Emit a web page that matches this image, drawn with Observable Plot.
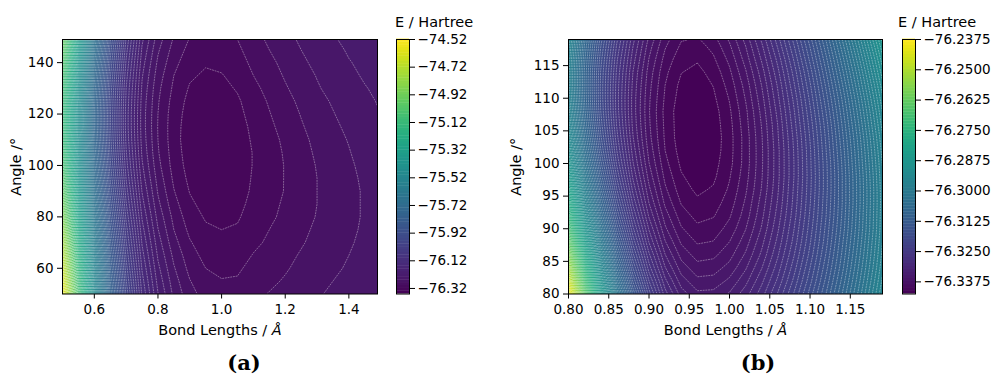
<!DOCTYPE html>
<html>
<head>
<meta charset="utf-8">
<script src="https://cdn.jsdelivr.net/npm/d3@7"></script>
<script src="https://cdn.jsdelivr.net/npm/@observablehq/plot@0.6"></script>
<style>
  body { margin: 0; background: #fff; }
  #fig { position: relative; width: 995px; height: 376px; font-family: "DejaVu Sans", sans-serif; color: #000; }
  #fig > svg { position: absolute; top: 0; }
  .cbtitle { position: absolute; top: 14px; font-size: 14.5px; line-height: 17px; white-space: nowrap; }
  .caption { position: absolute; top: 350px; width: 60px; text-align: center; font-family: "DejaVu Serif", "Liberation Serif", serif; font-weight: bold; font-size: 21px; }
</style>
</head>
<body>
<div id="fig"></div>
<script>
// ---------- Panel (a): wide scan ----------
const bondLengthsA = [0.50, 0.55, 0.60, 0.65, 0.70, 0.75, 0.80, 0.85, 0.90, 0.95, 1.00,
                      1.05, 1.10, 1.15, 1.20, 1.25, 1.30, 1.35, 1.40, 1.45, 1.50];
const anglesA = [50, 55, 60, 65, 70, 75, 80, 85, 90, 95, 100, 105, 110, 115, 120, 125, 130, 135, 140, 145, 150];
// one row per bond length, values along anglesA (Hartree)
const energyA = [
  [-74.567, -74.614, -74.662, -74.712, -74.764, -74.815, -74.866, -74.915, -74.961, -75.002, -75.038, -75.066, -75.086, -75.097, -75.098, -75.089, -75.071, -75.044, -75.010, -74.969, -74.924],
  [-75.083, -75.117, -75.152, -75.188, -75.225, -75.262, -75.299, -75.334, -75.367, -75.397, -75.423, -75.444, -75.458, -75.466, -75.466, -75.460, -75.447, -75.428, -75.403, -75.373, -75.341],
  [-75.487, -75.511, -75.536, -75.561, -75.588, -75.614, -75.640, -75.665, -75.688, -75.710, -75.728, -75.742, -75.753, -75.758, -75.759, -75.754, -75.745, -75.731, -75.714, -75.693, -75.670],
  [-75.782, -75.799, -75.817, -75.835, -75.854, -75.873, -75.892, -75.909, -75.926, -75.942, -75.955, -75.965, -75.972, -75.976, -75.977, -75.974, -75.967, -75.957, -75.944, -75.930, -75.913],
  [-75.985, -75.998, -76.011, -76.024, -76.038, -76.051, -76.065, -76.078, -76.090, -76.101, -76.111, -76.118, -76.124, -76.127, -76.127, -76.124, -76.120, -76.112, -76.103, -76.092, -76.080],
  [-76.123, -76.132, -76.142, -76.152, -76.162, -76.172, -76.182, -76.192, -76.201, -76.210, -76.217, -76.223, -76.227, -76.229, -76.229, -76.227, -76.223, -76.218, -76.211, -76.203, -76.194],
  [-76.199, -76.207, -76.215, -76.223, -76.231, -76.239, -76.247, -76.255, -76.262, -76.268, -76.274, -76.278, -76.280, -76.281, -76.280, -76.278, -76.275, -76.270, -76.264, -76.257, -76.249],
  [-76.245, -76.251, -76.258, -76.265, -76.273, -76.280, -76.286, -76.293, -76.299, -76.304, -76.308, -76.310, -76.312, -76.312, -76.311, -76.308, -76.304, -76.300, -76.294, -76.288, -76.281],
  [-76.273, -76.279, -76.286, -76.292, -76.298, -76.305, -76.311, -76.316, -76.321, -76.325, -76.328, -76.330, -76.331, -76.330, -76.328, -76.326, -76.322, -76.317, -76.312, -76.306, -76.300],
  [-76.288, -76.294, -76.300, -76.306, -76.312, -76.317, -76.322, -76.327, -76.331, -76.335, -76.337, -76.338, -76.338, -76.337, -76.335, -76.332, -76.328, -76.323, -76.318, -76.313, -76.307],
  [-76.293, -76.299, -76.304, -76.310, -76.315, -76.320, -76.325, -76.329, -76.333, -76.335, -76.337, -76.338, -76.337, -76.336, -76.333, -76.330, -76.326, -76.321, -76.316, -76.311, -76.305],
  [-76.292, -76.298, -76.303, -76.308, -76.313, -76.318, -76.322, -76.325, -76.328, -76.330, -76.331, -76.331, -76.331, -76.329, -76.326, -76.323, -76.318, -76.314, -76.309, -76.304, -76.299],
  [-76.285, -76.289, -76.294, -76.299, -76.304, -76.308, -76.312, -76.315, -76.317, -76.318, -76.319, -76.319, -76.317, -76.315, -76.312, -76.309, -76.305, -76.300, -76.295, -76.290, -76.286],
  [-76.279, -76.284, -76.288, -76.293, -76.297, -76.300, -76.304, -76.306, -76.308, -76.309, -76.309, -76.308, -76.307, -76.304, -76.301, -76.298, -76.294, -76.289, -76.285, -76.280, -76.276],
  [-76.273, -76.278, -76.282, -76.286, -76.289, -76.293, -76.295, -76.297, -76.299, -76.299, -76.299, -76.298, -76.296, -76.293, -76.290, -76.286, -76.282, -76.278, -76.274, -76.270, -76.266],
  [-76.267, -76.271, -76.275, -76.278, -76.282, -76.284, -76.287, -76.288, -76.289, -76.289, -76.288, -76.287, -76.285, -76.282, -76.279, -76.276, -76.272, -76.268, -76.264, -76.260, -76.256],
  [-76.262, -76.265, -76.269, -76.272, -76.274, -76.277, -76.279, -76.280, -76.280, -76.280, -76.279, -76.277, -76.275, -76.272, -76.269, -76.266, -76.262, -76.259, -76.255, -76.251, -76.248],
  [-76.257, -76.260, -76.263, -76.266, -76.268, -76.270, -76.271, -76.272, -76.272, -76.271, -76.270, -76.269, -76.266, -76.264, -76.261, -76.258, -76.254, -76.251, -76.248, -76.245, -76.241],
  [-76.253, -76.256, -76.258, -76.260, -76.262, -76.264, -76.265, -76.265, -76.265, -76.264, -76.263, -76.261, -76.259, -76.256, -76.253, -76.250, -76.247, -76.244, -76.241, -76.238, -76.236],
  [-76.248, -76.251, -76.253, -76.255, -76.256, -76.257, -76.258, -76.258, -76.258, -76.257, -76.255, -76.253, -76.251, -76.249, -76.246, -76.244, -76.241, -76.238, -76.236, -76.233, -76.231],
  [-76.245, -76.247, -76.248, -76.250, -76.251, -76.252, -76.252, -76.252, -76.251, -76.250, -76.249, -76.247, -76.245, -76.243, -76.240, -76.238, -76.236, -76.233, -76.231, -76.229, -76.227]
];
const levelStartA = -76.36, levelEndA = -74.52, levelStepA = 0.02;
const xTicksA = [0.6, 0.8, 1.0, 1.2, 1.4];
const yTicksA = [60, 80, 100, 120, 140];
const cbTicksA = [-76.32, -76.12, -75.92, -75.72, -75.52, -75.32, -75.12, -74.92, -74.72, -74.52];

// ---------- Panel (b): close-up around the minimum ----------
const bondLengthsB = [0.80, 0.82, 0.84, 0.86, 0.88, 0.90, 0.92, 0.94, 0.96, 0.98, 1.00,
                      1.02, 1.04, 1.06, 1.08, 1.10, 1.12, 1.14, 1.16, 1.18, 1.20];
const anglesB = [80, 82, 84, 86, 88, 90, 92, 94, 96, 98, 100, 102, 104, 106, 108, 110, 112, 114, 116, 118, 120];
// one row per bond length, values along anglesB (Hartree)
const energyB = [
  [-76.2387, -76.2455, -76.2519, -76.2578, -76.2634, -76.2685, -76.2732, -76.2775, -76.2813, -76.2847, -76.2877, -76.2903, -76.2925, -76.2942, -76.2955, -76.2964, -76.2969, -76.2969, -76.2965, -76.2957, -76.2945],
  [-76.2641, -76.2696, -76.2746, -76.2793, -76.2837, -76.2877, -76.2914, -76.2948, -76.2977, -76.3004, -76.3027, -76.3046, -76.3062, -76.3075, -76.3084, -76.3089, -76.3091, -76.3090, -76.3085, -76.3077, -76.3065],
  [-76.2848, -76.2891, -76.2930, -76.2967, -76.3001, -76.3032, -76.3061, -76.3086, -76.3109, -76.3129, -76.3146, -76.3161, -76.3172, -76.3181, -76.3187, -76.3190, -76.3190, -76.3188, -76.3182, -76.3174, -76.3163],
  [-76.3012, -76.3045, -76.3076, -76.3104, -76.3130, -76.3154, -76.3176, -76.3195, -76.3212, -76.3227, -76.3240, -76.3250, -76.3258, -76.3264, -76.3268, -76.3269, -76.3268, -76.3265, -76.3260, -76.3252, -76.3242],
  [-76.3138, -76.3164, -76.3187, -76.3209, -76.3229, -76.3247, -76.3263, -76.3278, -76.3291, -76.3302, -76.3311, -76.3318, -76.3324, -76.3328, -76.3330, -76.3330, -76.3328, -76.3325, -76.3319, -76.3312, -76.3304],
  [-76.3231, -76.3250, -76.3269, -76.3285, -76.3301, -76.3314, -76.3327, -76.3338, -76.3347, -76.3355, -76.3362, -76.3367, -76.3371, -76.3373, -76.3374, -76.3373, -76.3371, -76.3368, -76.3363, -76.3357, -76.3349],
  [-76.3294, -76.3309, -76.3324, -76.3337, -76.3349, -76.3360, -76.3369, -76.3378, -76.3385, -76.3391, -76.3396, -76.3400, -76.3402, -76.3403, -76.3404, -76.3402, -76.3400, -76.3397, -76.3392, -76.3386, -76.3379],
  [-76.3331, -76.3344, -76.3356, -76.3367, -76.3377, -76.3386, -76.3394, -76.3401, -76.3407, -76.3411, -76.3415, -76.3418, -76.3420, -76.3420, -76.3420, -76.3418, -76.3416, -76.3412, -76.3408, -76.3402, -76.3396],
  [-76.3347, -76.3359, -76.3370, -76.3380, -76.3389, -76.3397, -76.3404, -76.3410, -76.3415, -76.3419, -76.3422, -76.3424, -76.3425, -76.3425, -76.3424, -76.3422, -76.3419, -76.3416, -76.3411, -76.3405, -76.3398],
  [-76.3346, -76.3358, -76.3368, -76.3378, -76.3387, -76.3394, -76.3401, -76.3406, -76.3411, -76.3415, -76.3417, -76.3419, -76.3420, -76.3419, -76.3418, -76.3415, -76.3412, -76.3408, -76.3402, -76.3396, -76.3388],
  [-76.3336, -76.3347, -76.3358, -76.3367, -76.3375, -76.3383, -76.3389, -76.3394, -76.3398, -76.3401, -76.3404, -76.3405, -76.3405, -76.3404, -76.3402, -76.3399, -76.3395, -76.3390, -76.3384, -76.3377, -76.3369],
  [-76.3318, -76.3329, -76.3339, -76.3348, -76.3356, -76.3363, -76.3369, -76.3373, -76.3377, -76.3380, -76.3382, -76.3382, -76.3382, -76.3380, -76.3378, -76.3374, -76.3370, -76.3364, -76.3357, -76.3350, -76.3341],
  [-76.3293, -76.3303, -76.3313, -76.3322, -76.3329, -76.3336, -76.3341, -76.3345, -76.3349, -76.3351, -76.3352, -76.3352, -76.3351, -76.3349, -76.3346, -76.3342, -76.3337, -76.3331, -76.3323, -76.3315, -76.3305],
  [-76.3261, -76.3272, -76.3281, -76.3289, -76.3296, -76.3302, -76.3307, -76.3311, -76.3314, -76.3316, -76.3316, -76.3316, -76.3314, -76.3312, -76.3308, -76.3303, -76.3298, -76.3291, -76.3283, -76.3273, -76.3263],
  [-76.3224, -76.3234, -76.3243, -76.3251, -76.3258, -76.3263, -76.3268, -76.3271, -76.3273, -76.3275, -76.3275, -76.3274, -76.3272, -76.3268, -76.3264, -76.3259, -76.3252, -76.3245, -76.3236, -76.3226, -76.3215],
  [-76.3182, -76.3192, -76.3200, -76.3208, -76.3214, -76.3219, -76.3223, -76.3226, -76.3228, -76.3229, -76.3228, -76.3227, -76.3224, -76.3220, -76.3215, -76.3209, -76.3202, -76.3194, -76.3184, -76.3174, -76.3162],
  [-76.3137, -76.3146, -76.3154, -76.3161, -76.3167, -76.3171, -76.3175, -76.3177, -76.3179, -76.3179, -76.3178, -76.3175, -76.3172, -76.3168, -76.3162, -76.3155, -76.3147, -76.3138, -76.3128, -76.3117, -76.3105],
  [-76.3087, -76.3096, -76.3104, -76.3110, -76.3115, -76.3120, -76.3123, -76.3125, -76.3125, -76.3125, -76.3123, -76.3120, -76.3116, -76.3111, -76.3105, -76.3098, -76.3089, -76.3079, -76.3068, -76.3056, -76.3043],
  [-76.3035, -76.3043, -76.3050, -76.3056, -76.3061, -76.3065, -76.3067, -76.3069, -76.3069, -76.3068, -76.3065, -76.3062, -76.3058, -76.3052, -76.3045, -76.3037, -76.3027, -76.3017, -76.3005, -76.2992, -76.2978],
  [-76.2980, -76.2988, -76.2995, -76.3000, -76.3004, -76.3008, -76.3009, -76.3010, -76.3010, -76.3008, -76.3005, -76.3001, -76.2996, -76.2989, -76.2982, -76.2973, -76.2963, -76.2951, -76.2939, -76.2925, -76.2910],
  [-76.2923, -76.2931, -76.2937, -76.2942, -76.2946, -76.2948, -76.2949, -76.2950, -76.2948, -76.2946, -76.2943, -76.2938, -76.2932, -76.2925, -76.2916, -76.2907, -76.2896, -76.2884, -76.2870, -76.2856, -76.2840]
];
const levelStartB = -76.3425, levelEndB = -76.2375, levelStepB = 0.00125;
const xTicksB = [0.80, 0.85, 0.90, 0.95, 1.00, 1.05, 1.10, 1.15];
const yTicksB = [80, 85, 90, 95, 100, 105, 110, 115];
const cbTicksB = [-76.3375, -76.325, -76.3125, -76.3, -76.2875, -76.275, -76.2625, -76.25, -76.2375];

// ---------- drawing ----------
const FONT = '"DejaVu Sans", sans-serif';
const TICK_SIZE = "13.5px", LABEL_SIZE = "14.5px";
const minus = s => s.replace("-", "\u2212");

function makeLevels(start, end, step, digits) {
  const n = Math.round((end - start) / step);
  return d3.range(n + 1).map(i => +(start + i * step).toFixed(digits));
}

// Plot.contour wants the grid row by row (one row per angle)
function gridValues(columns) {
  const nx = columns.length, ny = columns[0].length, v = new Array(nx * ny);
  for (let j = 0; j < ny; ++j) for (let i = 0; i < nx; ++i) v[j * nx + i] = columns[i][j];
  return v;
}

function surface({bond, angle, energy, levels, step, xDomain, yDomain, xTicks, yTicks, xDigits, marginLeft, marginRight}) {
  const nx = bond.length, ny = angle.length;
  const dx = bond[1] - bond[0], dy = angle[1] - angle[0];
  const grid = {
    width: nx, height: ny,
    x1: bond[0] - dx / 2, x2: bond[nx - 1] + dx / 2,
    y1: angle[0] - dy / 2, y2: angle[ny - 1] + dy / 2
  };
  const values = gridValues(energy);
  const lo = levels[0], hi = levels[levels.length - 1];
  const svg = Plot.plot({
    width: 390, height: 340,
    marginLeft, marginRight, marginTop: 39, marginBottom: 46.5,
    style: {fontFamily: FONT, fontSize: TICK_SIZE, color: "#000", background: "transparent"},
    x: {domain: xDomain, ticks: xTicks, tickFormat: d => d.toFixed(xDigits), tickSize: 5, tickPadding: 5,
        label: "Bond Lengths / Å", labelAnchor: "center", labelArrow: "none", labelOffset: 41},
    y: {domain: yDomain, ticks: yTicks, tickSize: 5, tickPadding: 4,
        label: "Angle /°", labelAnchor: "center", labelArrow: "none", labelOffset: marginLeft - 10},
    color: {type: "linear", scheme: "viridis", domain: [lo - step / 2, hi - step / 2]},
    marks: [
      Plot.contour(values, {...grid, fill: Plot.identity, thresholds: levels, clip: true}),
      Plot.contour(values, {...grid, value: Plot.identity, thresholds: levels, fill: "none",
        stroke: "white", strokeWidth: 0.6, strokeOpacity: 0.6, strokeDasharray: "1.9,0.8", clip: true}),
      Plot.frame({stroke: "#000", strokeWidth: 1})
    ]
  });
  for (const t of svg.querySelectorAll('[aria-label="x-axis label"] text')) {
    t.textContent = "Bond Lengths / ";
    const ts = document.createElementNS("http://www.w3.org/2000/svg", "tspan");
    ts.setAttribute("font-style", "italic");
    ts.textContent = "Å";
    t.appendChild(ts);
  }
  for (const g of svg.querySelectorAll('[aria-label="x-axis label"], [aria-label="y-axis label"]')) {
    g.setAttribute("font-size", LABEL_SIZE);
  }
  return svg;
}

function colorbar({levels, step, ticks, digits, width, marginLeft}) {
  const lo = levels[0], hi = levels[levels.length - 1];
  return Plot.plot({
    width, height: 340,
    marginLeft, marginRight: width - marginLeft - 13, marginTop: 39, marginBottom: 46.5,
    style: {fontFamily: FONT, fontSize: TICK_SIZE, color: "#000", background: "transparent"},
    x: {domain: [0, 1], axis: null},
    y: {domain: [lo, hi], axis: "right", ticks, tickFormat: d => minus(d.toFixed(digits)), tickSize: 5, tickPadding: 3, label: null},
    color: {type: "linear", scheme: "viridis", domain: [lo - step / 2, hi - step / 2]},
    marks: [
      Plot.rect(levels.slice(0, -1), {x1: 0, x2: 1, y1: d => d, y2: d => d + step, fill: d => d, insetTop: -0.4}),
      Plot.frame({stroke: "#000", strokeWidth: 1})
    ]
  });
}

const fig = document.getElementById("fig");
function place(node, left) { node.style.left = left + "px"; fig.appendChild(node); }
function label(text, cls, left) {
  const d = document.createElement("div");
  d.className = cls; d.textContent = text; d.style.left = left + "px";
  fig.appendChild(d);
}

const levelsA = makeLevels(levelStartA, levelEndA, levelStepA, 2);
const levelsB = makeLevels(levelStartB, levelEndB, levelStepB, 5);

place(surface({bond: bondLengthsA, angle: anglesA, energy: energyA, levels: levelsA, step: levelStepA,
  xDomain: [0.5, 1.49], yDomain: [50, 149], xTicks: xTicksA, yTicks: yTicksA, xDigits: 1,
  marginLeft: 62, marginRight: 13}), 0);
place(colorbar({levels: levelsA, step: levelStepA, ticks: cbTicksA, digits: 2, width: 100, marginLeft: 6}), 390);
place(surface({bond: bondLengthsB, angle: anglesB, energy: energyB, levels: levelsB, step: levelStepB,
  xDomain: [0.80, 1.19], yDomain: [80, 119], xTicks: xTicksB, yTicks: yTicksB, xDigits: 2,
  marginLeft: 68, marginRight: 8}), 500);
place(colorbar({levels: levelsB, step: levelStepB, ticks: cbTicksB, digits: 4, width: 104, marginLeft: 12}), 890);

label("E / Hartree", "cbtitle", 395);
label("E / Hartree", "cbtitle", 898);
label("(a)", "caption", 214);
label("(b)", "caption", 728);
</script>
</body>
</html>
